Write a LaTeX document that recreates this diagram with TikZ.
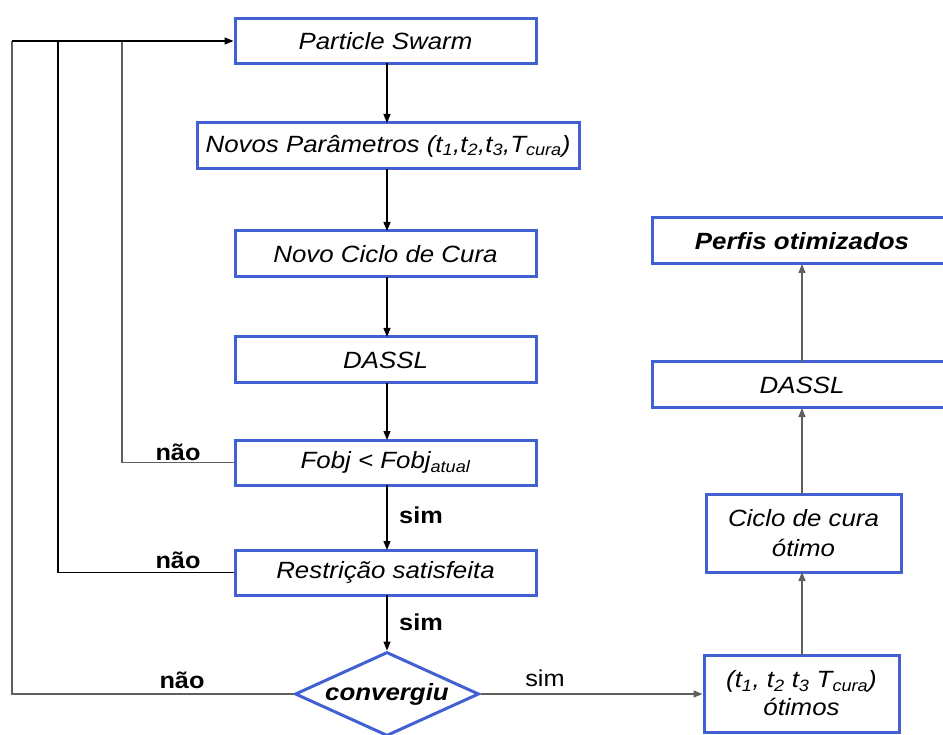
\documentclass[tikz,border=0pt]{standalone}
\usepackage{fontspec}
\setmainfont{Liberation Sans}[FakeStretch=1.1]
\usetikzlibrary{shapes.geometric,arrows.meta}
\definecolor{boxblue}{RGB}{66,96,210}
\definecolor{linegrey}{RGB}{95,95,95}
\newcommand{\sbs}[1]{\textsubscript{\itshape #1}}
\begin{document}
\begin{tikzpicture}[x=1pt,y=-1pt,
  flowbox/.style={draw=boxblue,line width=3pt,fill=white,font=\fontsize{23.5}{30}\selectfont\itshape,inner sep=0pt,align=center},
  conn/.style={line width=1.3pt,-{Triangle[length=9pt,width=7pt]}},
  gconn/.style={line width=1.3pt,draw=linegrey,-{Triangle[length=9pt,width=7pt]}},
  lbl/.style={font=\fontsize{23}{25}\selectfont\bfseries,inner sep=0pt}]
\useasboundingbox (0,0) rectangle (943,735);
% left column
\node[flowbox,minimum width=301pt,minimum height=45pt] (ps) at (385.5,41) {Particle Swarm};
\node[flowbox,minimum width=382pt,minimum height=46pt] (np) at (388,146) {Novos Parâmetros (t\sbs{1},t\sbs{2},t\sbs{3},T\sbs{cura})};
\node[flowbox,minimum width=301pt,minimum height=46pt] (nc) at (385.5,254) {Novo Ciclo de Cura};
\node[flowbox,minimum width=301pt,minimum height=46pt] (da) at (385.5,360) {DASSL};
\node[flowbox,minimum width=301pt,minimum height=45pt] (fo) at (385.5,462.5) {Fobj < Fobj\sbs{atual}};
\node[flowbox,minimum width=301pt,minimum height=45pt] (rs) at (385.5,572.5) {Restrição satisfeita};
\node[flowbox,shape=diamond,aspect=2.19,minimum width=184pt,minimum height=84pt] (cv) at (387,694) {};
\node[font=\fontsize{23.5}{26}\selectfont\bfseries\itshape,inner sep=0pt] (cvt) at (cv.center) {convergiu};
% right column
\node[flowbox,minimum width=195pt,minimum height=77pt,font=\fontsize{23.5}{28}\selectfont\itshape] (ot) at (801.5,693.5) {(t\sbs{1}, t\sbs{2} t\sbs{3} T\sbs{cura})\\ótimos};
\node[flowbox,minimum width=195pt,minimum height=78pt] (cc) at (803.5,533) {Ciclo de cura\\ótimo};
\node[flowbox,minimum width=300pt,minimum height=46pt] (d2) at (802,385) {DASSL};
\node[flowbox,minimum width=300pt,minimum height=46pt,font=\fontsize{23.5}{26}\selectfont\bfseries\itshape] (pf) at (802,241) {Perfis otimizados};
% coordinates for loop lines
\coordinate (c1) at (12,41);
\coordinate (c2) at (58,41);
\coordinate (c3) at (122,41);
% main flow
\draw[conn] (387,63.5) -- (387,123);
\draw[conn] (387,169) -- (387,231);
\draw[conn] (387,277) -- (387,337);
\draw[conn] (387,383) -- (387,440);
\draw[conn] (387,485) -- (387,550);
\draw[conn] (387,595) -- (cv.north);
% loops
\draw[line width=1.3pt,draw=linegrey] (fo.west) -- (fo.west-|c3) -- (c3);
\draw[line width=1.3pt] (rs.west) -- (rs.west-|c2) -- (c2);
\draw[line width=1.3pt,draw=linegrey] (cv.west) -- (cv.west-|c1) -- (c1);
\draw[conn] (c1) -- (ps.west);
% right flow
\draw[gconn] (cv.east) -- (cv.east-|ot.west);
\draw[gconn] (802,655) -- (802,572);
\draw[gconn] (802,494) -- (802,408);
\draw[gconn] (802,362) -- (802,264);
% labels
\node[lbl] at (178,452) {não};
\node[lbl] at (178,560) {não};
\node[lbl] at (182,680) {não};
\node[lbl] at (421,515) {sim};
\node[lbl] at (421,622) {sim};
\node[lbl,font=\fontsize{23}{25}\selectfont] at (545,678) {sim};
\end{tikzpicture}
\end{document}
